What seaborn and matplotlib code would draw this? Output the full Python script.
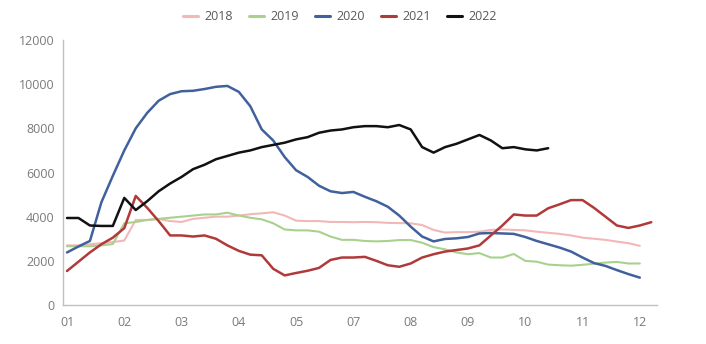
import numpy as np
import pandas as pd
import matplotlib
matplotlib.use("Agg")
import matplotlib.pyplot as plt
import seaborn as sns

# ---- data (weekly points) ----
y2018 = [2700, 2700, 2750, 2800, 2850, 2920, 3850, 3850, 3900, 3800, 3760, 3900, 3950, 4000,
         4000, 4050, 4110, 4150, 4200, 4050, 3820, 3800, 3800, 3760, 3760, 3750, 3760, 3750,
         3720, 3710, 3700, 3620, 3400, 3280, 3300, 3300, 3320, 3400, 3420, 3400, 3380, 3320,
         3270, 3220, 3150, 3050, 3000, 2950, 2870, 2800, 2680]
y2019 = [2660, 2660, 2660, 2700, 2760, 3700, 3760, 3850, 3900, 3950, 4000, 4050, 4100, 4100,
         4180, 4050, 3950, 3880, 3700, 3420, 3380, 3380, 3320, 3100, 2950, 2950, 2900, 2880,
         2900, 2940, 2940, 2820, 2620, 2520, 2380, 2300, 2350, 2150, 2150, 2310, 2000, 1960,
         1830, 1800, 1780, 1820, 1870, 1920, 1950, 1880, 1880]
y2020 = [2380, 2650, 2900, 4650, 5850, 7000, 8000, 8700, 9250, 9550, 9680, 9700, 9780, 9880,
         9920, 9650, 9000, 7950, 7450, 6700, 6100, 5800, 5400, 5150, 5070, 5120, 4900, 4700,
         4450, 4050, 3550, 3100, 2880, 2990, 3020, 3080, 3240, 3260, 3240, 3220, 3080, 2900,
         2750, 2600, 2420, 2150, 1900, 1770, 1580, 1400, 1240]
y2021 = [1540, 1960, 2380, 2750, 3050, 3480, 4940, 4400, 3800, 3150, 3150, 3100, 3150, 3000,
         2700, 2450, 2280, 2250, 1640, 1340, 1450, 1550, 1680, 2040, 2150, 2150, 2180, 2000,
         1800, 1730, 1880, 2150, 2300, 2420, 2490, 2560, 2700, 3150, 3600, 4100, 4050, 4050,
         4380, 4560, 4750, 4750, 4400, 4000, 3600, 3490, 3600, 3750]
y2022 = [3940, 3940, 3600, 3580, 3580, 4850, 4300, 4700, 5150, 5500, 5800, 6150, 6350, 6600,
         6750, 6900, 7000, 7150, 7250, 7350, 7500, 7600, 7800, 7900, 7950, 8050, 8100, 8100,
         8050, 8150, 7950, 7150, 6900, 7150, 7300, 7500, 7700, 7450, 7100, 7150, 7050, 7000,
         7100]

years = ["2018", "2019", "2020", "2021", "2022"]
series = [y2018, y2019, y2020, y2021, y2022]
colors = ["#F2B8B8", "#A9D18E", "#41619D", "#B03A3A", "#111111"]
widths = [1.5, 1.5, 1.8, 1.8, 1.8]
tick_labels = ["01", "02", "03", "04", "05", "07", "08", "09", "10", "11", "12"]
y_ticks = [0, 2000, 4000, 6000, 8000, 10000, 12000]

frames = []
for yr, vals in zip(years, series):
    frames.append(pd.DataFrame({"week": np.arange(len(vals)), "value": vals, "year": yr}))
df = pd.concat(frames, ignore_index=True)

sns.set_style("white")
plt.rcParams["font.family"] = ["Open Sans", "DejaVu Sans"]

fig = plt.figure(figsize=(7.06, 3.44), dpi=100)
ax = fig.add_axes([63 / 706, (344 - 305) / 344, (657 - 63) / 706, (305 - 40) / 344])

sns.lineplot(data=df, x="week", y="value", hue="year", hue_order=years,
             palette=dict(zip(years, colors)), ax=ax, legend=False, sort=False)
for line, lw in zip(ax.lines, widths):
    line.set_linewidth(lw)
    line.set_solid_joinstyle("round")

ax.set_xlim(-0.35, 51.5)
ax.set_ylim(0, 12000)
ax.set_xticks(np.arange(0, 5 * len(tick_labels), 5))
ax.set_xticklabels(tick_labels)
ax.set_yticks(y_ticks)
ax.set_yticklabels([str(v) for v in y_ticks])
ax.set_xlabel("")
ax.set_ylabel("")
ax.tick_params(axis="both", length=0, labelsize=9, colors="#7a7a7a")
ax.tick_params(axis="y", pad=6)
ax.tick_params(axis="x", pad=8)
for s in ["top", "right"]:
    ax.spines[s].set_visible(False)
for s in ["left", "bottom"]:
    ax.spines[s].set_color("#c0c0c0")
    ax.spines[s].set_linewidth(1.0)
ax.grid(False)

handles = [plt.Line2D([], [], color=c, lw=2.2) for c in colors]
leg = fig.legend(handles, years, loc="center", ncol=5, frameon=False,
                 bbox_to_anchor=(340 / 706, 1 - 17 / 344), fontsize=9,
                 handlelength=1.15, handletextpad=0.55, columnspacing=1.3)
for t in leg.get_texts():
    t.set_color("#595959")

fig.savefig("out.png", dpi=100, facecolor="white")
